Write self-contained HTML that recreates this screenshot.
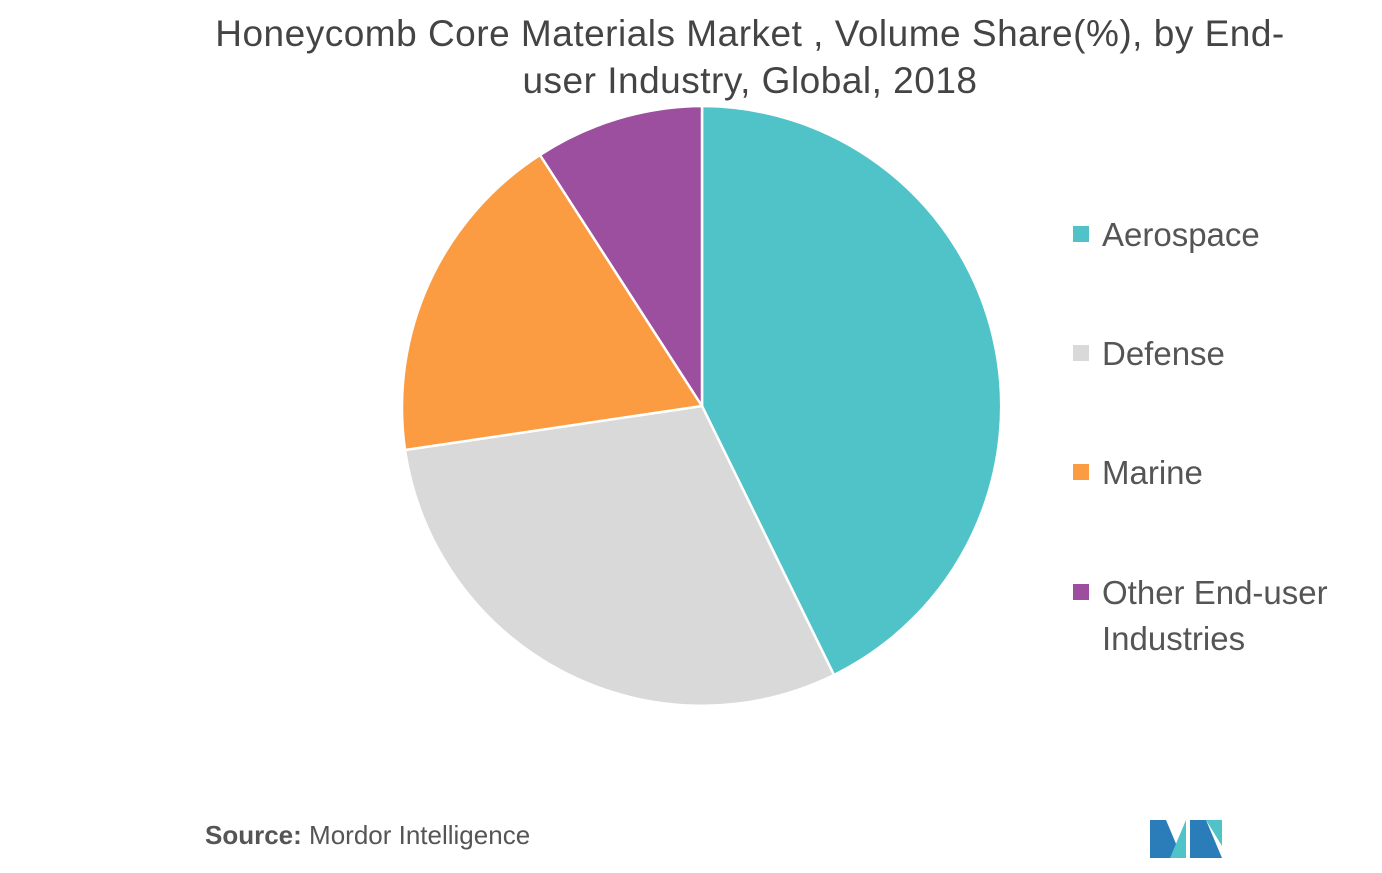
<!DOCTYPE html>
<html><head><meta charset="utf-8"><style>
html,body{margin:0;padding:0;background:#fff;}
body{width:1382px;height:873px;position:relative;overflow:hidden;font-family:"Liberation Sans",sans-serif;}
.t{position:absolute;left:100px;width:1300px;text-align:center;top:10px;font-size:37px;line-height:47px;color:#444;letter-spacing:0.5px;}
.lg{position:absolute;left:1073px;font-size:33px;color:#555;line-height:46px;}
.lg span{display:inline-block;width:16px;height:16px;margin-right:13px;vertical-align:middle;position:relative;top:-3px;}
.src{position:absolute;left:205px;top:820px;font-size:26px;color:#555;}
</style></head><body>
<div class="t">Honeycomb Core Materials Market , Volume Share(%), by End-<br>user Industry, Global, 2018</div>
<svg width="1382" height="873" style="position:absolute;left:0;top:0">
<g stroke="#fff" stroke-width="2.5" stroke-linejoin="round">
<path d="M702,406 L702,106 A300,300 0 0 1 834,675 Z" fill="#50c3c8"/>
<path d="M702,406 L834,675 A300,300 0 0 1 405,450 Z" fill="#d9d9d9"/>
<path d="M702,406 L405,450 A300,300 0 0 1 540,155 Z" fill="#fb9c43"/>
<path d="M702,406 L540,155 A300,300 0 0 1 702,106 Z" fill="#9b4f9e"/>
</g>
<g>
<polygon points="1150,858 1150,820 1166,820 1182,858" fill="#2a7db8"/>
<polygon points="1170,858 1186,820 1186,858" fill="#50c3c8"/>
<polygon points="1190,858 1190,820 1206,820 1222,858 1206,858" fill="#2a7db8"/>
<polygon points="1206,820 1222,820 1222,846" fill="#50c3c8"/>
</g>
</svg>
<div class="lg" style="top:212px"><span style="background:#50c3c8"></span>Aerospace</div>
<div class="lg" style="top:331px"><span style="background:#d9d9d9"></span>Defense</div>
<div class="lg" style="top:450px"><span style="background:#fb9c43"></span>Marine</div>
<div class="lg" style="top:570px"><span style="background:#9b4f9e"></span>Other End-user<br><span style="background:none;width:16px"></span>Industries</div>
<div class="src"><b>Source:</b> Mordor Intelligence</div>
</body></html>
